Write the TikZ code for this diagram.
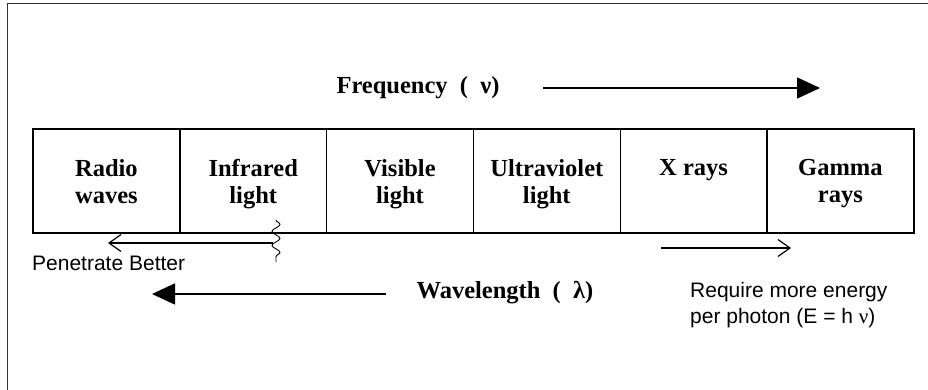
\documentclass[tikz,border=0pt]{standalone}
\usepackage{fontspec}
\setmainfont{Liberation Serif}
\setsansfont{Liberation Sans}
\usetikzlibrary{arrows.meta,positioning,decorations.pathmorphing}

\begin{document}
\begin{tikzpicture}[x=1pt,y=-1pt,
  cell/.style={draw,line width=1.4pt,minimum width=146.8pt,minimum height=104pt,inner sep=0pt},
  band/.style={font=\bfseries\fontsize{24.5}{27}\selectfont,align=center,inner sep=0pt,anchor=north},
  note/.style={font=\sffamily\fontsize{21}{26}\selectfont,align=left,inner sep=0pt,anchor=west},
  axis/.style={font=\bfseries\fontsize{24.5}{27}\selectfont,inner sep=0pt},
  bigarrow/.style={line width=1.5pt,-{Triangle[length=23pt,width=21pt]}},
  thinarrow/.style={line width=1.2pt,-{Straight Barb[length=12pt,width=17pt]}}]
\useasboundingbox (0,0) rectangle (928,390);
\draw[line width=1pt,black!80] (928,4) -- (7,4) -- (7,390);
% the six bands
\foreach \i/\txt in {1/Radio\\waves,2/Infrared\\light,3/Visible\\light,
  4/Ultraviolet\\light,5/X rays,6/Gamma\\rays}{
  \node[cell] (c\i) at ({33+146.8*(\i-0.5)},181) {};
  \node[band] (t\i) at ([yshift=-31pt]c\i.north) {\txt};
}
% frequency
\node[axis] (fq) at (418,88) {Frequency\ \ (\ \ ν)};
\coordinate (fa) at (543,88);
\coordinate (fb) at (820,88);
\draw[bigarrow] (fa) -- (fb);
% wavelength
\node[axis] (wl) at (505,293) {Wavelength\ \ (\ \ λ)};
\coordinate (wa) at (386,294);
\coordinate (wb) at (152,294);
\draw[bigarrow] (wa) -- (wb);
% penetration
\coordinate (pa) at (273,243);
\coordinate (pb) at (108,243);
\draw[thinarrow] (pa) -- (pb);
\coordinate (sa) at (276,220);
\coordinate (sb) at (276,262);
\draw[line width=0.9pt,decorate,decoration={snake,amplitude=4pt,segment length=14pt}] (sa) -- (sb);
\node[note] (pen) at (32,263) {Penetrate Better};
% energy
\coordinate (ea) at (661,248);
\coordinate (eb) at (791,248);
\draw[thinarrow] (ea) -- (eb);
\node[note] (en) at (690,305) {Require more energy\\per photon (E = h {\rmfamily ν})};
\end{tikzpicture}
\end{document}
